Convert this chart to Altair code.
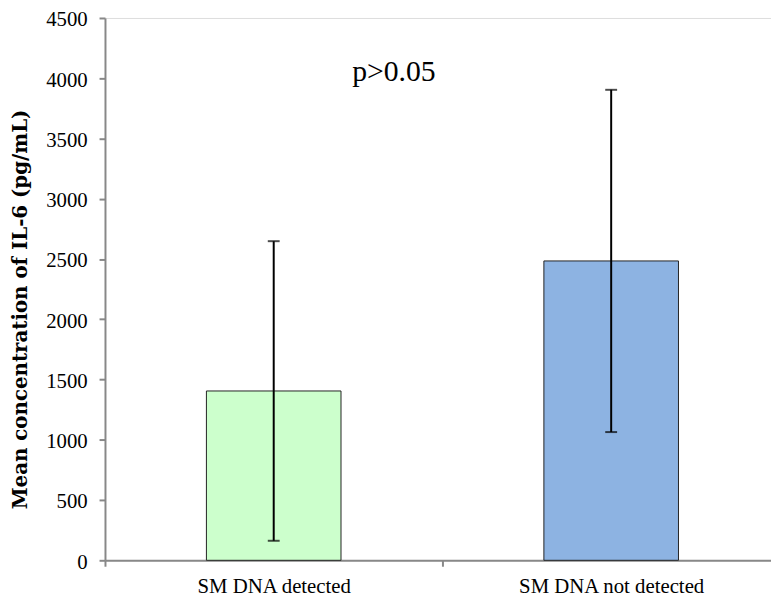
import altair as alt
import pandas as pd

groups = ["SM DNA detected", "SM DNA not detected"]
means = [1405, 2484]
sds = [1243, 1420]
bar_colors = ["#CCFFCC", "#8DB3E2"]
y_ticks = [0, 500, 1000, 1500, 2000, 2500, 3000, 3500, 4000, 4500]
p_label = "p>0.05"
p_label_y = 3975

df = pd.DataFrame({
    "group": groups,
    "mean": means,
    "sd": sds,
    "color": bar_colors,
})
df["lo"] = df["mean"] - df["sd"]
df["hi"] = df["mean"] + df["sd"]

serif = "'Liberation Serif', 'Times New Roman', serif"

x_enc = alt.X(
    "group:N",
    sort=groups,
    scale=alt.Scale(domain=groups, paddingInner=0, paddingOuter=0),
    axis=alt.Axis(
        title=None,
        labelAngle=0,
        labelFont=serif,
        labelFontSize=21,
        labelColor="#000000",
        labelPadding=10,
        labelLimit=400,
        domainColor="#888888",
        domainWidth=2,
        tickColor="#888888",
        tickWidth=2,
        tickSize=6,
        tickBand="extent",
    ),
)

y_scale = alt.Scale(domain=[0, 4500], nice=False)

bars = alt.Chart(df).mark_bar(size=136, stroke="#222222", strokeWidth=1).encode(
    x=x_enc,
    y=alt.Y(
        "mean:Q",
        scale=y_scale,
        axis=alt.Axis(
            values=y_ticks,
            format="d",
            title="Mean concentration of IL-6 (pg/mL)",
            titleFont="DejaVu Serif",
            titleFontWeight="bold",
            titleFontSize=20,
            titleColor="#000000",
            titleX=-75,
            titleY=294,
            labelFont=serif,
            labelFontSize=21,
            labelColor="#000000",
            labelPadding=12,
            labelOffset=2,
            domainColor="#888888",
            domainWidth=2,
            tickColor="#888888",
            tickWidth=2,
            tickSize=6,
            grid=False,
        ),
    ),
    color=alt.Color("color:N", scale=None, legend=None),
)

rules = alt.Chart(df).mark_rule(color="#000000", strokeWidth=2).encode(
    x=alt.X("group:N", sort=groups),
    y=alt.Y("lo:Q", scale=y_scale),
    y2="hi:Q",
)

caps_lo = alt.Chart(df).mark_tick(color="#000000", size=12, thickness=2, orient="horizontal").encode(
    x=alt.X("group:N", sort=groups),
    y=alt.Y("lo:Q", scale=y_scale),
)
caps_hi = alt.Chart(df).mark_tick(color="#000000", size=12, thickness=2, orient="horizontal").encode(
    x=alt.X("group:N", sort=groups),
    y=alt.Y("hi:Q", scale=y_scale),
)

ptext = alt.Chart(pd.DataFrame({"label": [p_label], "y": [p_label_y]})).mark_text(
    font=serif, fontSize=30, color="#000000", align="center", baseline="alphabetic"
).encode(
    x=alt.value(292),
    y=alt.Y("y:Q", scale=y_scale),
    text="label:N",
)

chart = alt.layer(bars, rules, caps_lo, caps_hi, ptext).properties(
    width=682,
    height=548,
    autosize=alt.AutoSizeParams(type="none"),
    padding={"left": 98, "top": 7, "right": -9, "bottom": 34},
).configure_view(stroke=None).configure(background="#FFFFFF")

chart.save("out.html", embed_options={"renderer": "svg", "actions": False})
